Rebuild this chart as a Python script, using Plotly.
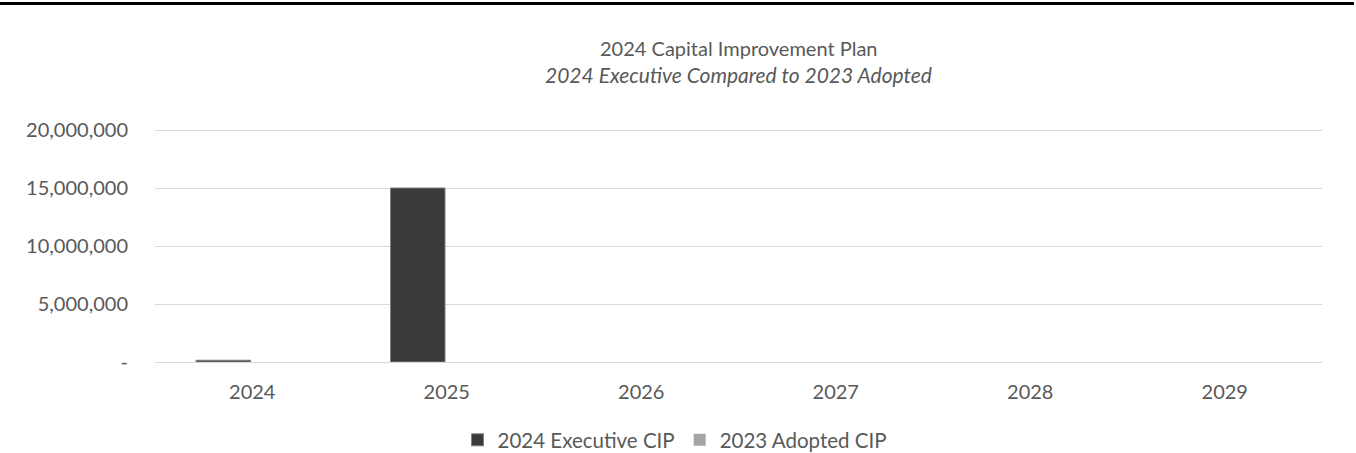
import plotly.graph_objects as go

years = ["2024", "2025", "2026", "2027", "2028", "2029"]
executive = [150000, 15000000, 0, 0, 0, 0]
adopted = [0, 0, 0, 0, 0, 0]
ytick_vals = [0, 5000000, 10000000, 15000000, 20000000]
ytick_text = ["-", "5,000,000", "10,000,000", "15,000,000", "20,000,000"]

W, H = 1356, 453
L, R, T, B = 155, 34, 127, 91
PW, PH = W - L - R, H - T - B
YTOP = 20000000 * PH / (H - B - 130)


def px_x(x):
    return (x - L) / PW


def px_y(y):
    return (H - B - y) / PH


fig = go.Figure()
fig.add_trace(go.Bar(x=years, y=executive, name="2024 Executive CIP",
                     marker=dict(color="#3b3a38",
                                 line=dict(color="#7f7f7f", width=[1 if v > 0 else 0 for v in executive]))))
fig.add_trace(go.Bar(x=years, y=adopted, name="2023 Adopted CIP",
                     marker=dict(color="#a5a5a5",
                                 line=dict(color="#a5a5a5", width=[1 if v > 0 else 0 for v in adopted]))))

font = "Lato, 'Open Sans', sans-serif"
fig.update_layout(
    width=W, height=H,
    margin=dict(l=L, r=R, t=T, b=B, autoexpand=False),
    paper_bgcolor="white", plot_bgcolor="white",
    barmode="group", bargap=0.404, bargroupgap=0.06,
    font=dict(family=font, size=20, color="#595959"),
    showlegend=True,
    legend=dict(orientation="h", x=px_x(675), xanchor="center",
                y=px_y(440), yanchor="middle",
                font=dict(size=20.5, color="#595959"), itemwidth=30),
    xaxis=dict(showgrid=False, showline=False, ticks="", ticklabelstandoff=16,
               tickfont=dict(size=20, color="#595959")),
    yaxis=dict(range=[0, YTOP], tickvals=ytick_vals, ticktext=ytick_text,
               showgrid=True, gridcolor="#d9d9d9", gridwidth=1, zeroline=True,
               zerolinecolor="#d9d9d9", zerolinewidth=1, showline=False, ticks="",
               ticklabelstandoff=26, tickfont=dict(size=20, color="#595959")),
    annotations=[
        dict(text="2024 Capital Improvement Plan", xref="paper", yref="paper",
             x=0.5, y=px_y(48), xanchor="center", yanchor="middle",
             showarrow=False, font=dict(size=20, color="#595959", family=font)),
        dict(text="<i>2024 Executive Compared to 2023 Adopted</i>", xref="paper", yref="paper",
             x=0.5, y=px_y(74), xanchor="center", yanchor="middle",
             showarrow=False, font=dict(size=21, color="#595959", family=font)),
    ],
    shapes=[dict(type="line", xref="paper", yref="paper",
                 x0=px_x(0), x1=px_x(1354),
                 y0=px_y(3.5), y1=px_y(3.5),
                 line=dict(color="black", width=3))],
)

fig.write_html("out.html", config={"displayModeBar": False},
               post_script="document.body.style.margin='0';")
